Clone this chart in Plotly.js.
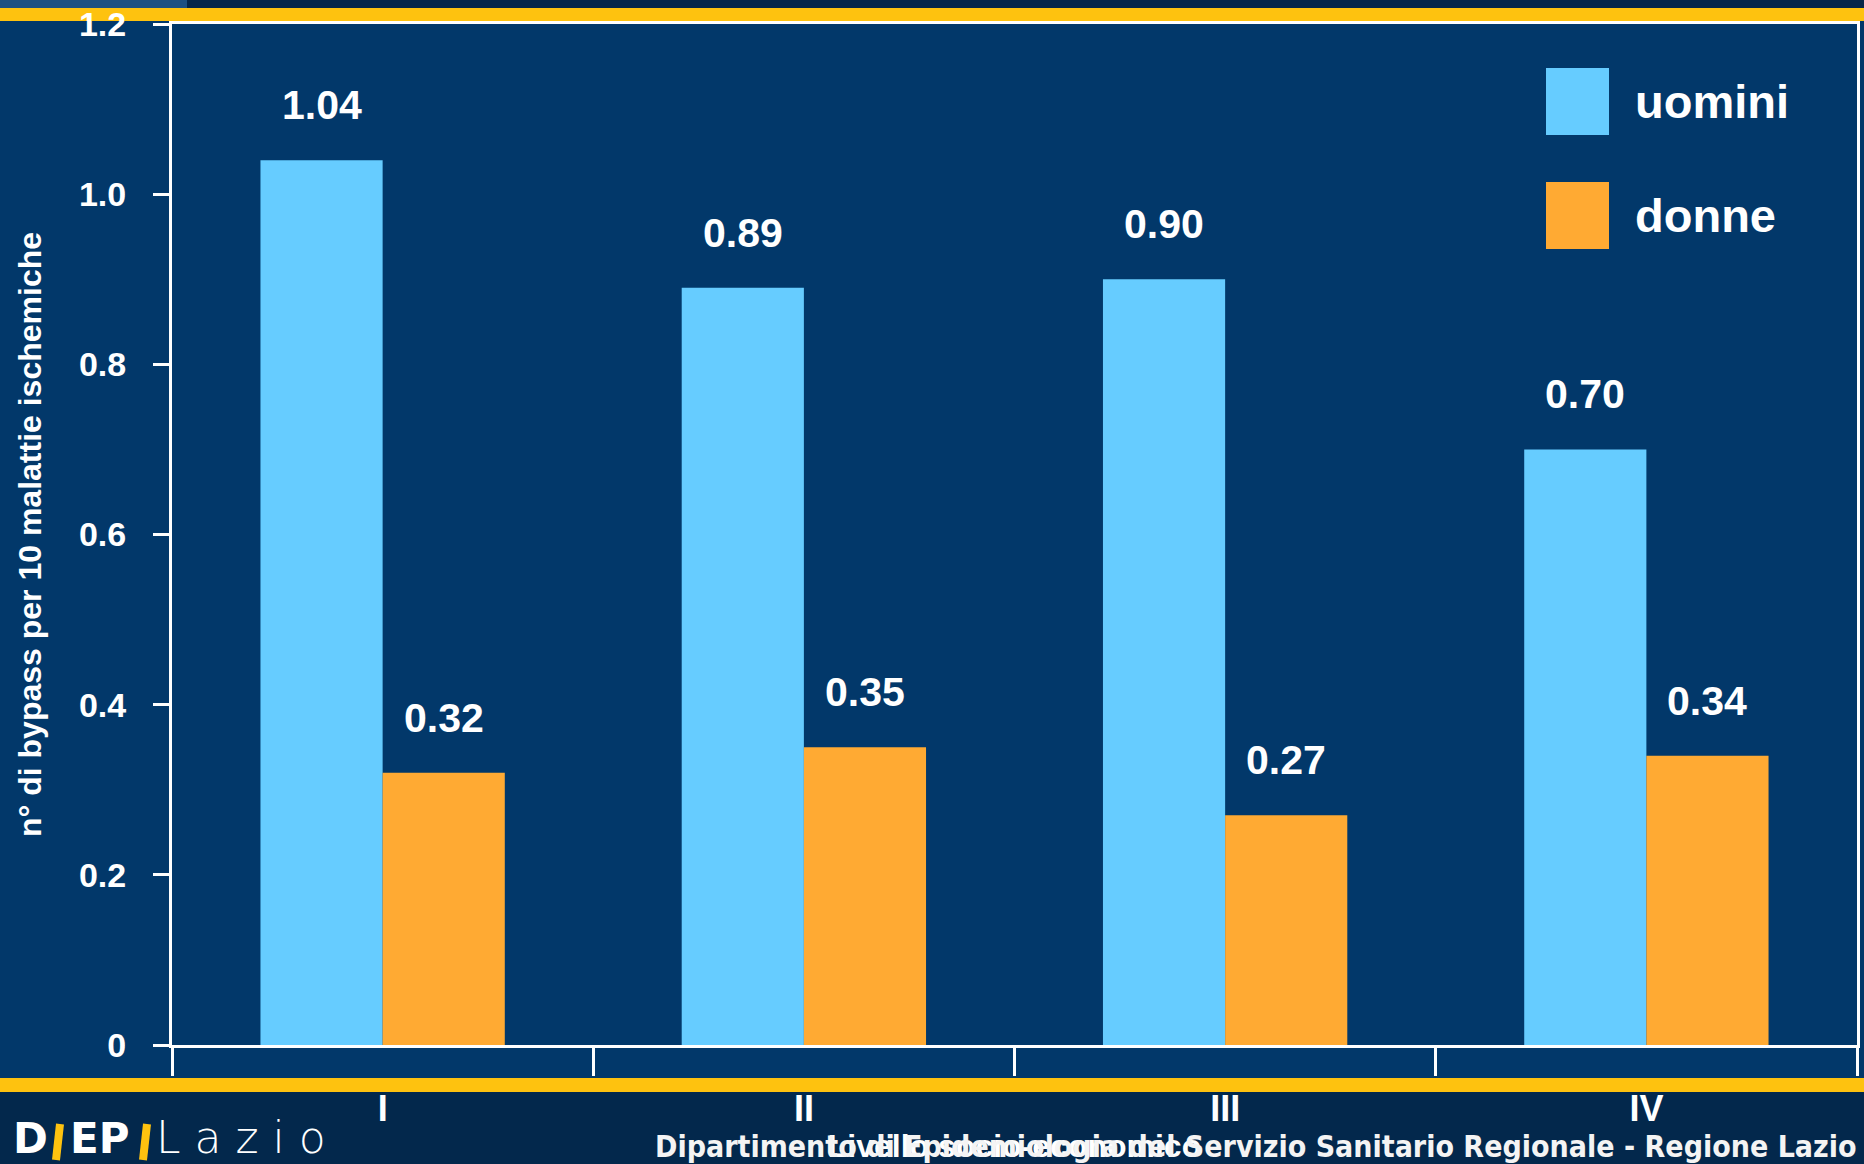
<!DOCTYPE html>
<html>
<head>
<meta charset="utf-8">
<script src="https://cdn.plot.ly/plotly-3.0.1.min.js"></script>
<style>html,body{margin:0;padding:0;background:#03284c;}#chart{width:1864px;height:1164px;}</style>
</head>
<body>
<div id="chart"></div>
<script>
// ---- data ----
const categories = ['I', 'II', 'III', 'IV'];
const seriesNames = ['uomini', 'donne'];
const uomini = [1.04, 0.89, 0.90, 0.70];
const donne = [0.32, 0.35, 0.27, 0.34];
const seriesColors = ['#66ccff', '#ffaa33'];
const yTickVals = [0, 0.2, 0.4, 0.6, 0.8, 1.0, 1.2];
const yTickText = ['0', '0.2', '0.4', '0.6', '0.8', '1.0', '1.2'];
const yTitle = 'n° di bypass per 10 malattie ischemiche';
const xTitle = 'Livello socio-economico';
const footerText = 'Dipartimento di Epidemiologia del Servizio Sanitario Regionale - Regione Lazio';

// ---- geometry helpers (pixel -> paper) ----
const W = 1864, H = 1164, L = 172, R = 1857, T = 24, B = 1045;
const px = x => (x - L) / (R - L);
const py = y => (B - y) / (B - T);
function rect(x0, y0, x1, y1, color, layer) {
  return {type: 'rect', xref: 'paper', yref: 'paper', x0: px(x0), x1: px(x1), y0: py(y1), y1: py(y0),
    fillcolor: color, line: {width: 0}, layer: layer || 'below'};
}
function seg(x0, y0, x1, y1, color, width) {
  return {type: 'line', xref: 'paper', yref: 'paper', x0: px(x0), x1: px(x1), y0: py(y0), y1: py(y1),
    line: {color: color, width: width}, layer: 'above'};
}

const bargap = 0.42;
const seriesValues = [uomini, donne];
const barHalf = (1 - bargap) / 4;

const traces = seriesValues.map((vals, s) => ({
  type: 'bar', x: categories, y: vals, name: seriesNames[s],
  marker: {color: seriesColors[s], line: {width: 0}}, showlegend: false, hoverinfo: 'x+y'
}));

const annotations = [];
seriesValues.forEach((vals, s) => {
  vals.forEach((v, i) => {
    annotations.push({
      x: i + (s === 0 ? -barHalf : barHalf), y: v, xref: 'x', yref: 'y',
      text: '<b>' + v.toFixed(2) + '</b>', showarrow: false, yanchor: 'bottom', yshift: 30,
      font: {family: 'Liberation Sans, Arial, sans-serif', size: 41, color: '#ffffff'}
    });
  });
});

// background bands
const shapes = [
  rect(0, 0, 187, 8, '#1e5081'),
  rect(187, 0, W, 8, '#062649'),
  rect(0, 8, W, 21, '#fec20f'),
  rect(0, 21, W, 1078, '#02386a'),
  rect(0, 1078, W, 1092, '#fec20f'),
  rect(0, 1092, W, H, '#03284c')
];
// custom legend
const legendTops = [68, 182];
seriesNames.forEach((n, s) => {
  shapes.push(rect(1546, legendTops[s], 1609, legendTops[s] + 67, seriesColors[s], 'above'));
  annotations.push({
    xref: 'paper', yref: 'paper', x: px(1633), y: py(legendTops[s] + 33), xanchor: 'left', yanchor: 'middle',
    text: '<b>' + n + '</b>', showarrow: false,
    font: {family: 'Liberation Sans, Arial, sans-serif', size: 47, color: '#ffffff'}
  });
});

// footer
annotations.push({
  xref: 'paper', yref: 'paper', x: px(1859), y: py(1146), xanchor: 'right', yanchor: 'middle',
  text: '<b>' + footerText + '</b>', showarrow: false,
  font: {family: 'DejaVu Sans Condensed, Liberation Sans Narrow, sans-serif', size: 30, color: '#f4f4f4'}
});
// logo D|EP|Lazio
const logoFont = {family: 'DejaVu Sans, sans-serif', size: 42, color: '#ffffff', weight: 'bold'};
const logoY = py(H);
annotations.push({xref: 'paper', yref: 'paper', x: px(12), y: logoY, xanchor: 'left', yanchor: 'bottom',
  borderpad: 0, text: 'D', showarrow: false, font: logoFont});
annotations.push({xref: 'paper', yref: 'paper', x: px(69), y: logoY, xanchor: 'left', yanchor: 'bottom',
  borderpad: 0, text: 'EP', showarrow: false, font: logoFont});
annotations.push({xref: 'paper', yref: 'paper', x: px(155), y: logoY, xanchor: 'left', yanchor: 'bottom',
  borderpad: 0, text: 'L a z i o', showarrow: false,
  font: {family: 'DejaVu Sans, sans-serif', size: 44, color: '#ffffff', weight: 200}});
shapes.push(seg(56, 1160, 60, 1124, '#fec20f', 8));
shapes.push(seg(143, 1160, 147, 1124, '#fec20f', 8));

const layout = {
  width: W, height: H,
  margin: {l: L, r: W - R, t: T, b: H - B, pad: 0},
  paper_bgcolor: '#03284c', plot_bgcolor: 'rgba(0,0,0,0)',
  barmode: 'group', bargap: bargap, bargroupgap: 0,
  showlegend: false,
  font: {family: 'Liberation Sans, Arial, sans-serif', color: '#ffffff'},
  xaxis: {
    type: 'category', range: [-0.5, 3.5], tickson: 'boundaries',
    showline: true, mirror: true, linecolor: '#ffffff', linewidth: 3,
    ticks: 'outside', ticklen: 28, tickwidth: 3, tickcolor: '#ffffff',
    ticklabelstandoff: 30,
    tickfont: {family: 'Liberation Sans, Arial, sans-serif', size: 36, color: '#ffffff', weight: 'bold'},
    showgrid: false, zeroline: false, automargin: false,
    title: {text: '<b>' + xTitle + '</b>', standoff: 10,
      font: {family: 'Liberation Sans, Arial, sans-serif', size: 32, color: '#ffffff'}}
  },
  yaxis: {
    range: [0, 1.2], tickvals: yTickVals, ticktext: yTickText,
    showline: true, mirror: true, linecolor: '#ffffff', linewidth: 3,
    ticks: 'outside', ticklen: 16, tickwidth: 3, tickcolor: '#ffffff',
    ticklabelstandoff: 20,
    tickfont: {family: 'Liberation Sans, Arial, sans-serif', size: 34, color: '#ffffff', weight: 'bold'},
    showgrid: false, zeroline: false, automargin: false,
    title: {text: '<b>' + yTitle + '</b>', standoff: 28,
      font: {family: 'Liberation Sans, Arial, sans-serif', size: 32, color: '#ffffff'}}
  },
  shapes: shapes,
  annotations: annotations
};

Plotly.newPlot('chart', traces, layout, {displayModeBar: false, staticPlot: true});
</script>
</body>
</html>
